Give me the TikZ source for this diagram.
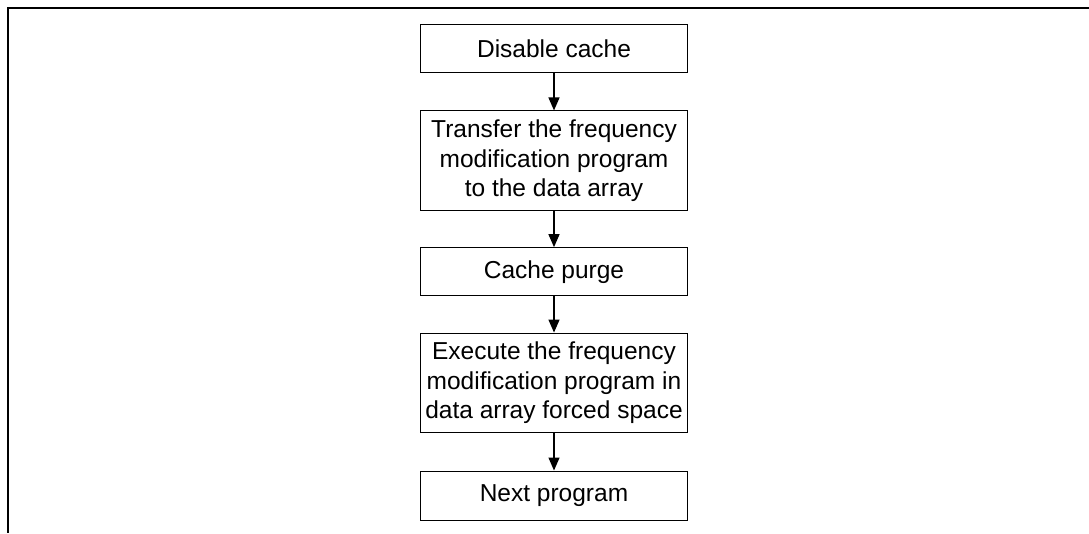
\documentclass[tikz,border=0pt]{standalone}
\usepackage{fontspec}
\setmainfont{Liberation Sans}
\usetikzlibrary{arrows.meta}
\begin{document}
\begin{tikzpicture}[x=1pt,y=-1pt,
  stepbox/.style={draw,line width=1pt,minimum width=266.6pt,inner sep=0pt,
    align=center,font=\fontsize{24.5}{29.5}\selectfont},
  flow/.style={line width=1.3pt,-{Triangle[length=13pt,width=11pt]}}]
  \useasboundingbox (0,0) rectangle (1089,533);
  % open frame: top and left edges only
  \draw[line width=2pt] (1089,8) -- (7.5,8) -- (7.5,533);
  \node[stepbox,minimum height=47.7pt] (s1) at (554,48.8) {Disable cache};
  \node[stepbox,minimum height=99.7pt] (s2) at (554,160.8)
    {Transfer the frequency\\modification program\\to the data array};
  \node[stepbox,minimum height=48.3pt] (s3) at (554,271.8) {Cache purge};
  \node[stepbox,minimum height=99.3pt] (s4) at (554,382.7)
    {Execute the frequency\\modification program in\\data array forced space};
  \node[stepbox,minimum height=49pt] (s5) at (554,495.5) {Next program};
  \draw[flow] (s1) -- (s2);
  \draw[flow] (s2) -- (s3);
  \draw[flow] (s3) -- (s4);
  \draw[flow] (s4) -- (s5);
\end{tikzpicture}
\end{document}
